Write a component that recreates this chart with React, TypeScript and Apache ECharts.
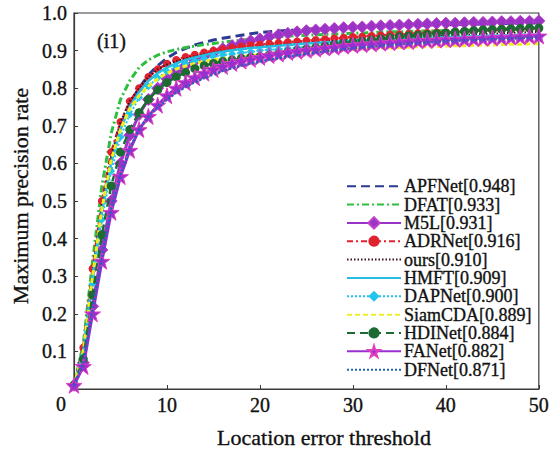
import React, { useEffect, useRef } from "react";
import * as echarts from "echarts";

const thresholds: number[] = Array.from({ length: 51 }, (_, i) => i);

const seriesNames = [
  "APFNet[0.948]",
  "DFAT[0.933]",
  "M5L[0.931]",
  "ADRNet[0.916]",
  "ours[0.910]",
  "HMFT[0.909]",
  "DAPNet[0.900]",
  "SiamCDA[0.889]",
  "HDINet[0.884]",
  "FANet[0.882]",
  "DFNet[0.871]",
];

const apfnet = [0.01, 0.10, 0.30, 0.48, 0.61, 0.70, 0.76, 0.80, 0.835, 0.86, 0.88, 0.895, 0.906, 0.915, 0.922, 0.928, 0.933, 0.937, 0.941, 0.945, 0.948, 0.950, 0.952, 0.954, 0.955, 0.957, 0.958, 0.959, 0.960, 0.961, 0.962, 0.963, 0.964, 0.965, 0.965, 0.966, 0.967, 0.967, 0.968, 0.968, 0.969, 0.969, 0.970, 0.970, 0.971, 0.971, 0.972, 0.972, 0.973, 0.973, 0.974];
const dfat = [0.01, 0.12, 0.34, 0.54, 0.68, 0.77, 0.82, 0.855, 0.875, 0.888, 0.897, 0.903, 0.908, 0.912, 0.916, 0.919, 0.922, 0.925, 0.928, 0.930, 0.933, 0.935, 0.937, 0.938, 0.940, 0.941, 0.942, 0.943, 0.944, 0.945, 0.946, 0.947, 0.948, 0.949, 0.950, 0.950, 0.951, 0.952, 0.952, 0.953, 0.953, 0.954, 0.954, 0.955, 0.955, 0.956, 0.956, 0.957, 0.957, 0.958, 0.958];
const m5l = [0.01, 0.07, 0.22, 0.37, 0.50, 0.60, 0.675, 0.73, 0.77, 0.80, 0.825, 0.845, 0.86, 0.873, 0.885, 0.895, 0.905, 0.913, 0.92, 0.926, 0.931, 0.937, 0.942, 0.946, 0.950, 0.953, 0.955, 0.957, 0.959, 0.961, 0.962, 0.963, 0.965, 0.966, 0.967, 0.968, 0.969, 0.970, 0.971, 0.972, 0.973, 0.973, 0.974, 0.975, 0.975, 0.976, 0.977, 0.977, 0.978, 0.978, 0.979];
const adrnet = [0.01, 0.11, 0.32, 0.50, 0.63, 0.71, 0.765, 0.80, 0.83, 0.85, 0.865, 0.875, 0.883, 0.889, 0.895, 0.900, 0.904, 0.908, 0.911, 0.914, 0.916, 0.918, 0.920, 0.922, 0.924, 0.926, 0.928, 0.930, 0.932, 0.934, 0.936, 0.937, 0.939, 0.940, 0.942, 0.943, 0.944, 0.946, 0.947, 0.948, 0.949, 0.950, 0.951, 0.952, 0.953, 0.954, 0.955, 0.956, 0.957, 0.958, 0.959];
const ours = [0.01, 0.10, 0.31, 0.49, 0.62, 0.71, 0.765, 0.80, 0.83, 0.85, 0.863, 0.872, 0.879, 0.885, 0.89, 0.894, 0.898, 0.901, 0.904, 0.907, 0.910, 0.912, 0.914, 0.916, 0.918, 0.920, 0.922, 0.924, 0.926, 0.927, 0.929, 0.930, 0.931, 0.933, 0.934, 0.935, 0.936, 0.937, 0.938, 0.939, 0.940, 0.941, 0.942, 0.943, 0.944, 0.945, 0.946, 0.947, 0.948, 0.949, 0.950];
const hmft = [0.01, 0.10, 0.30, 0.47, 0.60, 0.69, 0.75, 0.79, 0.82, 0.84, 0.855, 0.866, 0.875, 0.882, 0.888, 0.893, 0.897, 0.901, 0.904, 0.907, 0.909, 0.911, 0.913, 0.915, 0.917, 0.919, 0.920, 0.922, 0.923, 0.925, 0.926, 0.927, 0.928, 0.929, 0.930, 0.931, 0.932, 0.933, 0.934, 0.935, 0.936, 0.937, 0.937, 0.938, 0.939, 0.940, 0.940, 0.941, 0.942, 0.942, 0.943];
const dapnet = [0.01, 0.09, 0.28, 0.45, 0.58, 0.67, 0.73, 0.775, 0.805, 0.828, 0.845, 0.857, 0.866, 0.873, 0.879, 0.884, 0.888, 0.891, 0.894, 0.897, 0.900, 0.902, 0.904, 0.906, 0.908, 0.910, 0.912, 0.914, 0.915, 0.917, 0.918, 0.920, 0.921, 0.922, 0.923, 0.924, 0.925, 0.926, 0.927, 0.928, 0.929, 0.930, 0.931, 0.932, 0.933, 0.934, 0.935, 0.936, 0.937, 0.938, 0.939];
const siamcda = [0.01, 0.10, 0.30, 0.48, 0.61, 0.69, 0.745, 0.78, 0.805, 0.825, 0.84, 0.851, 0.859, 0.866, 0.871, 0.876, 0.879, 0.882, 0.885, 0.887, 0.889, 0.891, 0.893, 0.894, 0.896, 0.897, 0.899, 0.900, 0.901, 0.902, 0.903, 0.904, 0.905, 0.906, 0.907, 0.908, 0.909, 0.910, 0.910, 0.911, 0.912, 0.913, 0.913, 0.914, 0.915, 0.915, 0.916, 0.917, 0.917, 0.918, 0.918];
const hdinet = [0.01, 0.08, 0.25, 0.41, 0.54, 0.63, 0.69, 0.735, 0.77, 0.795, 0.815, 0.83, 0.842, 0.852, 0.86, 0.866, 0.871, 0.875, 0.879, 0.882, 0.884, 0.888, 0.892, 0.896, 0.900, 0.904, 0.908, 0.912, 0.916, 0.919, 0.922, 0.925, 0.928, 0.931, 0.934, 0.937, 0.939, 0.941, 0.943, 0.945, 0.947, 0.949, 0.951, 0.953, 0.955, 0.956, 0.957, 0.958, 0.959, 0.960, 0.960];
const fanet = [0.01, 0.06, 0.20, 0.34, 0.47, 0.565, 0.635, 0.69, 0.725, 0.755, 0.78, 0.80, 0.815, 0.828, 0.84, 0.85, 0.858, 0.866, 0.872, 0.877, 0.882, 0.887, 0.891, 0.895, 0.898, 0.901, 0.904, 0.907, 0.909, 0.912, 0.914, 0.916, 0.918, 0.920, 0.921, 0.923, 0.924, 0.926, 0.927, 0.928, 0.929, 0.930, 0.931, 0.932, 0.933, 0.934, 0.935, 0.936, 0.937, 0.938, 0.939];
const dfnet = [0.01, 0.07, 0.21, 0.35, 0.48, 0.57, 0.64, 0.69, 0.725, 0.75, 0.77, 0.788, 0.803, 0.816, 0.827, 0.837, 0.846, 0.853, 0.86, 0.866, 0.871, 0.876, 0.880, 0.884, 0.888, 0.892, 0.895, 0.898, 0.901, 0.904, 0.907, 0.909, 0.911, 0.913, 0.915, 0.917, 0.919, 0.920, 0.922, 0.923, 0.925, 0.926, 0.927, 0.928, 0.929, 0.930, 0.931, 0.932, 0.933, 0.934, 0.935];

const xTicks = [0, 10, 20, 30, 40, 50];
const yTicks = [0, 0.1, 0.2, 0.3, 0.4, 0.5, 0.6, 0.7, 0.8, 0.9, 1.0];

const STAR = "path://M50,0 L61,35 L98,35 L68,57 L79,91 L50,70 L21,91 L32,57 L2,35 L39,35 Z";
const FONT = "'Liberation Serif', 'Times New Roman', serif";

type Spec = {
  data: number[];
  color: string;
  type: any;
  width: number;
  symbol: string;
  size: number;
  border?: string;
};

const specs: Spec[] = [
  { data: apfnet, color: "#2b3a93", type: [9, 5], width: 3, symbol: "none", size: 0 },
  { data: dfat, color: "#2fbf3f", type: [7, 3, 2, 3], width: 3, symbol: "none", size: 0 },
  { data: m5l, color: "#9a34c6", type: "solid", width: 3, symbol: "diamond", size: 12, border: "#c040c8" },
  { data: adrnet, color: "#e0222e", type: [6, 3, 2, 3], width: 2.5, symbol: "circle", size: 8 },
  { data: ours, color: "#3a1020", type: [1.5, 2], width: 2, symbol: "none", size: 0 },
  { data: hmft, color: "#25bde0", type: "solid", width: 2.5, symbol: "none", size: 0 },
  { data: dapnet, color: "#20c4ec", type: [2, 2], width: 2, symbol: "diamond", size: 8 },
  { data: siamcda, color: "#eeee22", type: [5, 3], width: 3, symbol: "none", size: 0 },
  { data: hdinet, color: "#1c6b32", type: [8, 5], width: 2.5, symbol: "circle", size: 9 },
  { data: fanet, color: "#9a2fd0", type: "solid", width: 3, symbol: STAR, size: 16, border: "#e040c0" },
  { data: dfnet, color: "#2262b8", type: [2, 2], width: 2.5, symbol: "none", size: 0 },
];

export default function App() {
  const ref = useRef<HTMLDivElement>(null);
  useEffect(() => {
    if (!ref.current) return;
    const chart = echarts.init(ref.current, null, { renderer: "svg" });
    const series = specs.map((s, i) => ({
      name: seriesNames[i],
      type: "line",
      data: thresholds.map((x, j) => [x, s.data[j]]),
      symbol: s.symbol,
      symbolSize: s.size,
      showSymbol: s.symbol !== "none",
      lineStyle: { color: s.color, width: s.width, type: s.type },
      itemStyle: {
        color: s.color,
        borderColor: s.border || s.color,
        borderWidth: s.border ? 1 : 0,
      },
      clip: true,
      z: 2 + i * 0.01,
    }));
    const textBold = { textBorderColor: "#111", textBorderWidth: 0.35 };
    chart.setOption({
      animation: false,
      backgroundColor: "#ffffff",
      grid: {
        left: 74,
        right: 10,
        top: 13,
        bottom: 60,
        show: true,
        borderColor: "#3a3a3a",
        borderWidth: 1.2,
      },
      xAxis: {
        type: "value",
        min: 0,
        max: 50,
        interval: 10,
        axisLine: { show: true, lineStyle: { color: "#3a3a3a", width: 1.2 } },
        axisTick: { show: true, inside: true, length: 4, lineStyle: { color: "#3a3a3a" } },
        splitLine: { show: false },
        axisLabel: {
          margin: 6,
          fontSize: 20,
          fontFamily: FONT,
          color: "#111",
          ...textBold,
          formatter: (v: number) => (v === 0 ? "" : xTicks.includes(v) ? String(v) : ""),
        },
      },
      yAxis: {
        type: "value",
        min: 0,
        max: 1,
        interval: 0.1,
        axisLine: { show: true, lineStyle: { color: "#3a3a3a", width: 1.2 } },
        axisTick: { show: true, inside: true, length: 4, lineStyle: { color: "#3a3a3a" } },
        splitLine: { show: false },
        axisLabel: {
          margin: 7,
          fontSize: 20,
          fontFamily: FONT,
          color: "#111",
          ...textBold,
          formatter: (v: number) => {
            const t = yTicks.find((k) => Math.abs(k - v) < 1e-6);
            if (t === undefined || t === 0) return "";
            return t.toFixed(1);
          },
        },
      },
      legend: {
        orient: "vertical",
        left: 341,
        top: 172,
        itemWidth: 54,
        itemHeight: 14,
        itemGap: 0,
        textStyle: { fontSize: 18, lineHeight: 18, fontFamily: FONT, color: "#111", ...textBold, padding: [0, 0, 0, -2] },
        data: seriesNames.map((n, i) => ({
          name: n,
          itemStyle: specs[i].symbol === "none" ? { opacity: 0 } : undefined,
        })),
      },
      graphic: [
        { type: "text", x: 97, y: 41, style: { text: "(i1)", font: `20px ${FONT}`, fill: "#111", stroke: "#111", lineWidth: 0.35, textVerticalAlign: "middle" } },
        { type: "text", x: 61, y: 404, style: { text: "0", font: `20px ${FONT}`, fill: "#111", stroke: "#111", lineWidth: 0.35, textAlign: "center", textVerticalAlign: "middle" } },
        { type: "text", x: 324, y: 437, style: { text: "Location error threshold", font: `22px ${FONT}`, fill: "#111", stroke: "#111", lineWidth: 0.35, textAlign: "center", textVerticalAlign: "middle" } },
        { type: "text", x: 20, y: 196, rotation: Math.PI / 2, style: { text: "Maximum precision rate", font: `22px ${FONT}`, fill: "#111", stroke: "#111", lineWidth: 0.35, textAlign: "center", textVerticalAlign: "middle" } },
      ],
      series,
    });
    return () => chart.dispose();
  }, []);
  return <div ref={ref} style={{ width: 552, height: 449, position: "absolute", left: 0, top: 0 }} />;
}
